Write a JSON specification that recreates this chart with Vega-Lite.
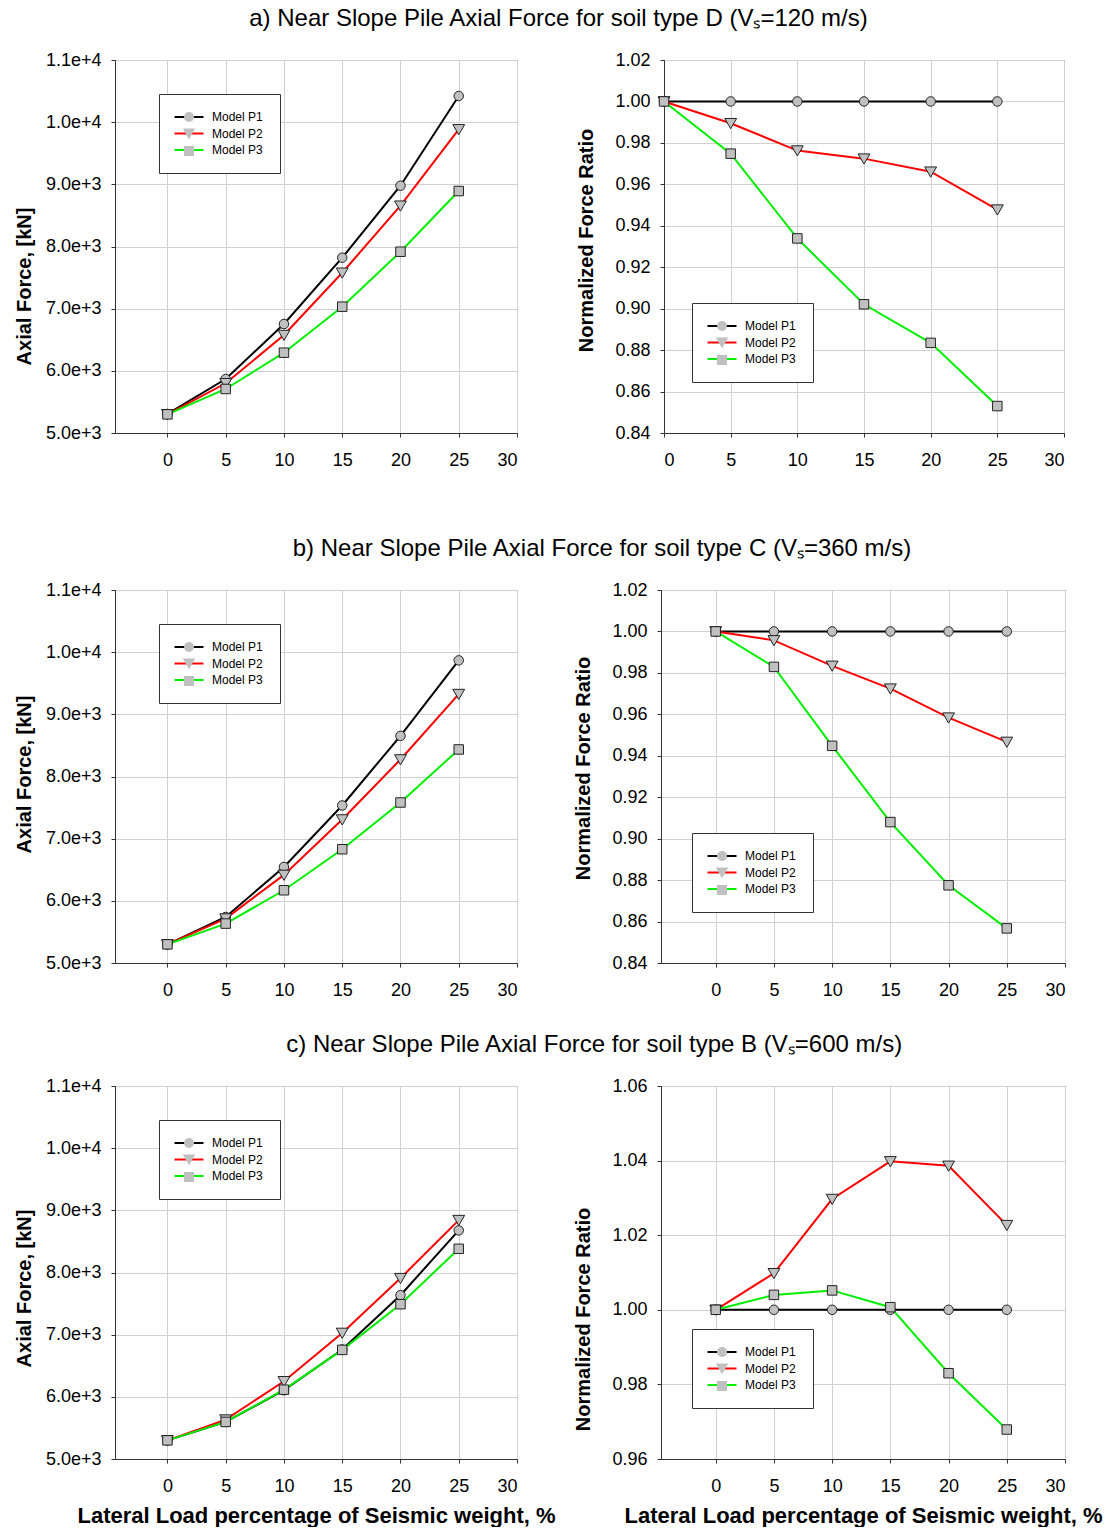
{
  "$schema": "https://vega.github.io/schema/vega-lite/v6.json",
  "background": "white",
  "padding": {"left": 13, "top": 6, "right": 0, "bottom": 0},
  "data": {"values": [
    {"p":"Fa","m":"Model P1","x":0,"y":5306},{"p":"Fa","m":"Model P1","x":5,"y":5868},{"p":"Fa","m":"Model P1","x":10,"y":6753},{"p":"Fa","m":"Model P1","x":15,"y":7820},{"p":"Fa","m":"Model P1","x":20,"y":8978},{"p":"Fa","m":"Model P1","x":25,"y":10421},
    {"p":"Fa","m":"Model P2","x":0,"y":5300},{"p":"Fa","m":"Model P2","x":5,"y":5800},{"p":"Fa","m":"Model P2","x":10,"y":6576},{"p":"Fa","m":"Model P2","x":15,"y":7578},{"p":"Fa","m":"Model P2","x":20,"y":8656},{"p":"Fa","m":"Model P2","x":25,"y":9885},
    {"p":"Fa","m":"Model P3","x":0,"y":5300},{"p":"Fa","m":"Model P3","x":5,"y":5708},{"p":"Fa","m":"Model P3","x":10,"y":6292},{"p":"Fa","m":"Model P3","x":15,"y":7032},{"p":"Fa","m":"Model P3","x":20,"y":7916},{"p":"Fa","m":"Model P3","x":25,"y":8892},
    {"p":"Ra","m":"Model P1","x":0,"y":1},{"p":"Ra","m":"Model P1","x":5,"y":1},{"p":"Ra","m":"Model P1","x":10,"y":1},{"p":"Ra","m":"Model P1","x":15,"y":1},{"p":"Ra","m":"Model P1","x":20,"y":1},{"p":"Ra","m":"Model P1","x":25,"y":1},
    {"p":"Ra","m":"Model P2","x":0,"y":1},{"p":"Ra","m":"Model P2","x":5,"y":0.9895},{"p":"Ra","m":"Model P2","x":10,"y":0.9763},{"p":"Ra","m":"Model P2","x":15,"y":0.9724},{"p":"Ra","m":"Model P2","x":20,"y":0.9661},{"p":"Ra","m":"Model P2","x":25,"y":0.9478},
    {"p":"Ra","m":"Model P3","x":0,"y":1},{"p":"Ra","m":"Model P3","x":5,"y":0.9748},{"p":"Ra","m":"Model P3","x":10,"y":0.9339},{"p":"Ra","m":"Model P3","x":15,"y":0.9021},{"p":"Ra","m":"Model P3","x":20,"y":0.8835},{"p":"Ra","m":"Model P3","x":25,"y":0.853},
    {"p":"Fb","m":"Model P1","x":0,"y":5300},{"p":"Fb","m":"Model P1","x":5,"y":5740},{"p":"Fb","m":"Model P1","x":10,"y":6545},{"p":"Fb","m":"Model P1","x":15,"y":7534},{"p":"Fb","m":"Model P1","x":20,"y":8654},{"p":"Fb","m":"Model P1","x":25,"y":9868},
    {"p":"Fb","m":"Model P2","x":0,"y":5300},{"p":"Fb","m":"Model P2","x":5,"y":5715},{"p":"Fb","m":"Model P2","x":10,"y":6417},{"p":"Fb","m":"Model P2","x":15,"y":7308},{"p":"Fb","m":"Model P2","x":20,"y":8274},{"p":"Fb","m":"Model P2","x":25,"y":9326},
    {"p":"Fb","m":"Model P3","x":0,"y":5300},{"p":"Fb","m":"Model P3","x":5,"y":5634},{"p":"Fb","m":"Model P3","x":10,"y":6170},{"p":"Fb","m":"Model P3","x":15,"y":6830},{"p":"Fb","m":"Model P3","x":20,"y":7582},{"p":"Fb","m":"Model P3","x":25,"y":8435},
    {"p":"Rb","m":"Model P1","x":0,"y":1},{"p":"Rb","m":"Model P1","x":5,"y":1},{"p":"Rb","m":"Model P1","x":10,"y":1},{"p":"Rb","m":"Model P1","x":15,"y":1},{"p":"Rb","m":"Model P1","x":20,"y":1},{"p":"Rb","m":"Model P1","x":25,"y":1},
    {"p":"Rb","m":"Model P2","x":0,"y":1},{"p":"Rb","m":"Model P2","x":5,"y":0.9957},{"p":"Rb","m":"Model P2","x":10,"y":0.9834},{"p":"Rb","m":"Model P2","x":15,"y":0.9724},{"p":"Rb","m":"Model P2","x":20,"y":0.9584},{"p":"Rb","m":"Model P2","x":25,"y":0.9467},
    {"p":"Rb","m":"Model P3","x":0,"y":1},{"p":"Rb","m":"Model P3","x":5,"y":0.9829},{"p":"Rb","m":"Model P3","x":10,"y":0.9448},{"p":"Rb","m":"Model P3","x":15,"y":0.908},{"p":"Rb","m":"Model P3","x":20,"y":0.8775},{"p":"Rb","m":"Model P3","x":25,"y":0.8567},
    {"p":"Fc","m":"Model P1","x":0,"y":5300},{"p":"Fc","m":"Model P1","x":5,"y":5596},{"p":"Fc","m":"Model P1","x":10,"y":6106},{"p":"Fc","m":"Model P1","x":15,"y":6761},{"p":"Fc","m":"Model P1","x":20,"y":7635},{"p":"Fc","m":"Model P1","x":25,"y":8677},
    {"p":"Fc","m":"Model P2","x":0,"y":5300},{"p":"Fc","m":"Model P2","x":5,"y":5634},{"p":"Fc","m":"Model P2","x":10,"y":6251},{"p":"Fc","m":"Model P2","x":15,"y":7028},{"p":"Fc","m":"Model P2","x":20,"y":7909},{"p":"Fc","m":"Model P2","x":25,"y":8843},
    {"p":"Fc","m":"Model P3","x":0,"y":5300},{"p":"Fc","m":"Model P3","x":5,"y":5596},{"p":"Fc","m":"Model P3","x":10,"y":6115},{"p":"Fc","m":"Model P3","x":15,"y":6755},{"p":"Fc","m":"Model P3","x":20,"y":7490},{"p":"Fc","m":"Model P3","x":25,"y":8381},
    {"p":"Rc","m":"Model P1","x":0,"y":1},{"p":"Rc","m":"Model P1","x":5,"y":1},{"p":"Rc","m":"Model P1","x":10,"y":1},{"p":"Rc","m":"Model P1","x":15,"y":1},{"p":"Rc","m":"Model P1","x":20,"y":1},{"p":"Rc","m":"Model P1","x":25,"y":1},
    {"p":"Rc","m":"Model P2","x":0,"y":1},{"p":"Rc","m":"Model P2","x":5,"y":1.0098},{"p":"Rc","m":"Model P2","x":10,"y":1.0297},{"p":"Rc","m":"Model P2","x":15,"y":1.0398},{"p":"Rc","m":"Model P2","x":20,"y":1.0386},{"p":"Rc","m":"Model P2","x":25,"y":1.0227},
    {"p":"Rc","m":"Model P3","x":0,"y":1},{"p":"Rc","m":"Model P3","x":5,"y":1.004},{"p":"Rc","m":"Model P3","x":10,"y":1.0052},{"p":"Rc","m":"Model P3","x":15,"y":1.0007},{"p":"Rc","m":"Model P3","x":20,"y":0.983},{"p":"Rc","m":"Model P3","x":25,"y":0.9679}
  ]},
  "vconcat": [
    {
      "title": {"text": "a) Near Slope Pile Axial Force  for soil type D (Vₛ=120 m/s)", "dx": 19},
      "hconcat": [
        {
          "width": 402, "height": 373,
          "transform": [{"filter": "datum.p == 'Fa'"}],
          "encoding": {
            "x": {"field": "x", "type": "quantitative", "scale": {"domain": [-4.5, 30], "nice": false, "zero": false}, "axis": {"values": [0,5,10,15,20,25,30], "title": null}},
            "y": {"field": "y", "type": "quantitative", "scale": {"domain": [5000, 11000], "nice": false, "zero": false}, "axis": {"values": [5000,6000,7000,8000,9000,10000,11000], "format": ".1e", "title": "Axial Force, [kN]", "titlePadding": 11, "titleY": 226}}
          },
          "layer": [
            {"mark": {"type": "line", "strokeWidth": 2},
             "encoding": {"color": {"field": "m", "type": "nominal", "scale": {"domain": ["Model P1","Model P2","Model P3"], "range": ["#000000","#ff0000","#00ee00"]},
               "legend": {"orient": "none", "legendX": 44, "legendY": 34, "title": null, "symbolType": "M-2.9,0H2.9", "symbolSize": 100, "symbolStrokeWidth": 2, "symbolOffset": 7, "labelOffset": 17, "padding": 17, "rowPadding": 4.5, "strokeColor": "#333", "fillColor": "white", "zindex": 1}}}},
            {"mark": {"type": "point", "filled": true, "fill": "#c0c0c0", "stroke": "#222", "strokeWidth": 1, "size": 90, "opacity": 1},
             "encoding": {"shape": {"field": "m", "type": "nominal", "scale": {"range": ["circle","M-1.25,-1L1.25,-1L0,1.15Z","square"]},
               "legend": {"orient": "none", "legendX": 44, "legendY": 34, "title": null, "symbolSize": 100, "symbolStrokeWidth": 2, "symbolFillColor": "#c0c0c0", "symbolStrokeColor": "#222", "symbolOffset": 7, "labelOffset": 17, "labelExpr": "''", "padding": 17, "rowPadding": -1.5, "zindex": 2,
                 "encode": {"symbols": {"fill": {"value": "#c0c0c0"}, "stroke": {"value": "#111"}, "strokeWidth": {"value": 1.1}, "opacity": {"value": 1}, "size": {"value": 100}}}}}}}
          ]
        },
        {
          "width": 400, "height": 373,
          "transform": [{"filter": "datum.p == 'Ra'"}],
          "encoding": {
            "x": {"field": "x", "type": "quantitative", "scale": {"domain": [0, 30], "nice": false, "zero": false}, "axis": {"values": [0,5,10,15,20,25,30], "title": null}},
            "y": {"field": "y", "type": "quantitative", "scale": {"domain": [0.84, 1.02], "nice": false, "zero": false}, "axis": {"values": [0.84,0.86,0.88,0.9,0.92,0.94,0.96,0.98,1.0,1.02], "format": ".2f", "title": "Normalized Force Ratio", "titlePadding": 18, "titleY": 180}}
          },
          "layer": [
            {"mark": {"type": "line", "strokeWidth": 2},
             "encoding": {"color": {"field": "m", "type": "nominal", "scale": {"domain": ["Model P1","Model P2","Model P3"], "range": ["#000000","#ff0000","#00ee00"]},
               "legend": {"orient": "none", "legendX": 28, "legendY": 243, "title": null, "symbolType": "M-2.9,0H2.9", "symbolSize": 100, "symbolStrokeWidth": 2, "symbolOffset": 7, "labelOffset": 17, "padding": 17, "rowPadding": 4.5, "strokeColor": "#333", "fillColor": "white", "zindex": 1}}}},
            {"mark": {"type": "point", "filled": true, "fill": "#c0c0c0", "stroke": "#222", "strokeWidth": 1, "size": 90, "opacity": 1},
             "encoding": {"shape": {"field": "m", "type": "nominal", "scale": {"range": ["circle","M-1.25,-1L1.25,-1L0,1.15Z","square"]},
               "legend": {"orient": "none", "legendX": 28, "legendY": 243, "title": null, "symbolSize": 100, "symbolStrokeWidth": 2, "symbolFillColor": "#c0c0c0", "symbolStrokeColor": "#222", "symbolOffset": 7, "labelOffset": 17, "labelExpr": "''", "padding": 17, "rowPadding": -1.5, "zindex": 2,
                 "encode": {"symbols": {"fill": {"value": "#c0c0c0"}, "stroke": {"value": "#111"}, "strokeWidth": {"value": 1.1}, "opacity": {"value": 1}, "size": {"value": 100}}}}}}}
          ]
        }
      ],
      "spacing": 147,
      "bounds": "flush",
      "resolve": {"scale": {"color": "independent", "shape": "independent"}}
    },
    {
      "vconcat": [
        {
          "title": {"text": "b) Near Slope Pile Axial Force  for soil type C (Vₛ=360 m/s)", "dx": 62},
          "hconcat": [
            {
              "width": 402, "height": 373,
              "transform": [{"filter": "datum.p == 'Fb'"}],
              "encoding": {
                "x": {"field": "x", "type": "quantitative", "scale": {"domain": [-4.5, 30], "nice": false, "zero": false}, "axis": {"values": [0,5,10,15,20,25,30], "title": null}},
                "y": {"field": "y", "type": "quantitative", "scale": {"domain": [5000, 11000], "nice": false, "zero": false}, "axis": {"values": [5000,6000,7000,8000,9000,10000,11000], "format": ".1e", "title": "Axial Force, [kN]", "titlePadding": 11, "titleY": 184}}
              },
              "layer": [
                {"mark": {"type": "line", "strokeWidth": 2},
                 "encoding": {"color": {"field": "m", "type": "nominal", "scale": {"domain": ["Model P1","Model P2","Model P3"], "range": ["#000000","#ff0000","#00ee00"]},
                   "legend": {"orient": "none", "legendX": 44, "legendY": 34, "title": null, "symbolType": "M-2.9,0H2.9", "symbolSize": 100, "symbolStrokeWidth": 2, "symbolOffset": 7, "labelOffset": 17, "padding": 17, "rowPadding": 4.5, "strokeColor": "#333", "fillColor": "white", "zindex": 1}}}},
                {"mark": {"type": "point", "filled": true, "fill": "#c0c0c0", "stroke": "#222", "strokeWidth": 1, "size": 90, "opacity": 1},
                 "encoding": {"shape": {"field": "m", "type": "nominal", "scale": {"range": ["circle","M-1.25,-1L1.25,-1L0,1.15Z","square"]},
                   "legend": {"orient": "none", "legendX": 44, "legendY": 34, "title": null, "symbolSize": 100, "symbolStrokeWidth": 2, "symbolFillColor": "#c0c0c0", "symbolStrokeColor": "#222", "symbolOffset": 7, "labelOffset": 17, "labelExpr": "''", "padding": 17, "rowPadding": -1.5, "zindex": 2,
                     "encode": {"symbols": {"fill": {"value": "#c0c0c0"}, "stroke": {"value": "#111"}, "strokeWidth": {"value": 1.1}, "opacity": {"value": 1}, "size": {"value": 100}}}}}}}
              ]
            },
            {
              "width": 404, "height": 373,
              "transform": [{"filter": "datum.p == 'Rb'"}],
              "encoding": {
                "x": {"field": "x", "type": "quantitative", "scale": {"domain": [-4.7, 30], "nice": false, "zero": false}, "axis": {"values": [0,5,10,15,20,25,30], "title": null}},
                "y": {"field": "y", "type": "quantitative", "scale": {"domain": [0.84, 1.02], "nice": false, "zero": false}, "axis": {"values": [0.84,0.86,0.88,0.9,0.92,0.94,0.96,0.98,1.0,1.02], "format": ".2f", "title": "Normalized Force Ratio", "titlePadding": 18, "titleY": 178}}
              },
              "layer": [
                {"mark": {"type": "line", "strokeWidth": 2},
                 "encoding": {"color": {"field": "m", "type": "nominal", "scale": {"domain": ["Model P1","Model P2","Model P3"], "range": ["#000000","#ff0000","#00ee00"]},
                   "legend": {"orient": "none", "legendX": 31, "legendY": 243, "title": null, "symbolType": "M-2.9,0H2.9", "symbolSize": 100, "symbolStrokeWidth": 2, "symbolOffset": 7, "labelOffset": 17, "padding": 17, "rowPadding": 4.5, "strokeColor": "#333", "fillColor": "white", "zindex": 1}}}},
                {"mark": {"type": "point", "filled": true, "fill": "#c0c0c0", "stroke": "#222", "strokeWidth": 1, "size": 90, "opacity": 1},
                 "encoding": {"shape": {"field": "m", "type": "nominal", "scale": {"range": ["circle","M-1.25,-1L1.25,-1L0,1.15Z","square"]},
                   "legend": {"orient": "none", "legendX": 31, "legendY": 243, "title": null, "symbolSize": 100, "symbolStrokeWidth": 2, "symbolFillColor": "#c0c0c0", "symbolStrokeColor": "#222", "symbolOffset": 7, "labelOffset": 17, "labelExpr": "''", "padding": 17, "rowPadding": -1.5, "zindex": 2,
                     "encode": {"symbols": {"fill": {"value": "#c0c0c0"}, "stroke": {"value": "#111"}, "strokeWidth": {"value": 1.1}, "opacity": {"value": 1}, "size": {"value": 100}}}}}}}
              ]
            }
          ],
          "spacing": 144,
          "bounds": "flush",
          "resolve": {"scale": {"color": "independent", "shape": "independent"}}
        },
        {
          "title": {"text": "c) Near Slope Pile Axial Force  for soil type B (Vₛ=600 m/s)", "dx": 36},
          "hconcat": [
            {
              "width": 402, "height": 373,
              "transform": [{"filter": "datum.p == 'Fc'"}],
              "encoding": {
                "x": {"field": "x", "type": "quantitative", "scale": {"domain": [-4.5, 30], "nice": false, "zero": false}, "axis": {"values": [0,5,10,15,20,25,30], "title": "Lateral Load percentage of Seismic weight, %", "titlePadding": 10}},
                "y": {"field": "y", "type": "quantitative", "scale": {"domain": [5000, 11000], "nice": false, "zero": false}, "axis": {"values": [5000,6000,7000,8000,9000,10000,11000], "format": ".1e", "title": "Axial Force, [kN]", "titlePadding": 11, "titleY": 202}}
              },
              "layer": [
                {"mark": {"type": "line", "strokeWidth": 2},
                 "encoding": {"color": {"field": "m", "type": "nominal", "scale": {"domain": ["Model P1","Model P2","Model P3"], "range": ["#000000","#ff0000","#00ee00"]},
                   "legend": {"orient": "none", "legendX": 44, "legendY": 34, "title": null, "symbolType": "M-2.9,0H2.9", "symbolSize": 100, "symbolStrokeWidth": 2, "symbolOffset": 7, "labelOffset": 17, "padding": 17, "rowPadding": 4.5, "strokeColor": "#333", "fillColor": "white", "zindex": 1}}}},
                {"mark": {"type": "point", "filled": true, "fill": "#c0c0c0", "stroke": "#222", "strokeWidth": 1, "size": 90, "opacity": 1},
                 "encoding": {"shape": {"field": "m", "type": "nominal", "scale": {"range": ["circle","M-1.25,-1L1.25,-1L0,1.15Z","square"]},
                   "legend": {"orient": "none", "legendX": 44, "legendY": 34, "title": null, "symbolSize": 100, "symbolStrokeWidth": 2, "symbolFillColor": "#c0c0c0", "symbolStrokeColor": "#222", "symbolOffset": 7, "labelOffset": 17, "labelExpr": "''", "padding": 17, "rowPadding": -1.5, "zindex": 2,
                     "encode": {"symbols": {"fill": {"value": "#c0c0c0"}, "stroke": {"value": "#111"}, "strokeWidth": {"value": 1.1}, "opacity": {"value": 1}, "size": {"value": 100}}}}}}}
              ]
            },
            {
              "width": 404, "height": 373,
              "transform": [{"filter": "datum.p == 'Rc'"}],
              "encoding": {
                "x": {"field": "x", "type": "quantitative", "scale": {"domain": [-4.7, 30], "nice": false, "zero": false}, "axis": {"values": [0,5,10,15,20,25,30], "title": "Lateral Load percentage of Seismic weight, %", "titlePadding": 10}},
                "y": {"field": "y", "type": "quantitative", "scale": {"domain": [0.96, 1.06], "nice": false, "zero": false}, "axis": {"values": [0.96,0.98,1.0,1.02,1.04,1.06], "format": ".2f", "title": "Normalized Force Ratio", "titlePadding": 18, "titleY": 233}}
              },
              "layer": [
                {"mark": {"type": "line", "strokeWidth": 2},
                 "encoding": {"color": {"field": "m", "type": "nominal", "scale": {"domain": ["Model P1","Model P2","Model P3"], "range": ["#000000","#ff0000","#00ee00"]},
                   "legend": {"orient": "none", "legendX": 31, "legendY": 243, "title": null, "symbolType": "M-2.9,0H2.9", "symbolSize": 100, "symbolStrokeWidth": 2, "symbolOffset": 7, "labelOffset": 17, "padding": 17, "rowPadding": 4.5, "strokeColor": "#333", "fillColor": "white", "zindex": 1}}}},
                {"mark": {"type": "point", "filled": true, "fill": "#c0c0c0", "stroke": "#222", "strokeWidth": 1, "size": 90, "opacity": 1},
                 "encoding": {"shape": {"field": "m", "type": "nominal", "scale": {"range": ["circle","M-1.25,-1L1.25,-1L0,1.15Z","square"]},
                   "legend": {"orient": "none", "legendX": 31, "legendY": 243, "title": null, "symbolSize": 100, "symbolStrokeWidth": 2, "symbolFillColor": "#c0c0c0", "symbolStrokeColor": "#222", "symbolOffset": 7, "labelOffset": 17, "labelExpr": "''", "padding": 17, "rowPadding": -1.5, "zindex": 2,
                     "encode": {"symbols": {"fill": {"value": "#c0c0c0"}, "stroke": {"value": "#111"}, "strokeWidth": {"value": 1.1}, "opacity": {"value": 1}, "size": {"value": 100}}}}}}}
              ]
            }
          ],
          "spacing": 144,
          "bounds": "flush",
          "resolve": {"scale": {"color": "independent", "shape": "independent"}}
        }
      ],
      "spacing": 32,
      "resolve": {"scale": {"color": "independent", "shape": "independent"}}
    }
  ],
  "spacing": 66,
  "resolve": {"scale": {"color": "independent", "shape": "independent"}},
  "config": {
    "font": "Liberation Sans",
    "view": {"stroke": "#333", "strokeWidth": 1},
    "axis": {
      "labelFont": "Liberation Sans", "labelFontSize": 18, "labelColor": "#000",
      "titleFont": "Liberation Sans", "titleFontSize": 20, "titleFontWeight": "bold", "titleColor": "#000",
      "domainColor": "#333", "tickColor": "#333", "tickSize": 4, "labelPadding": 10,
      "grid": true, "gridColor": "#d0d0d0", "gridWidth": 1
    },
    "axisX": {"titleFontSize": 22, "labelPadding": 14},
    "legend": {"labelFont": "Liberation Sans", "labelFontSize": 12, "labelColor": "#000"},
    "title": {"font": "Liberation Sans", "fontSize": 24, "fontWeight": "normal", "color": "#000", "anchor": "middle", "offset": 20, "baseline": "bottom"}
  }
}
